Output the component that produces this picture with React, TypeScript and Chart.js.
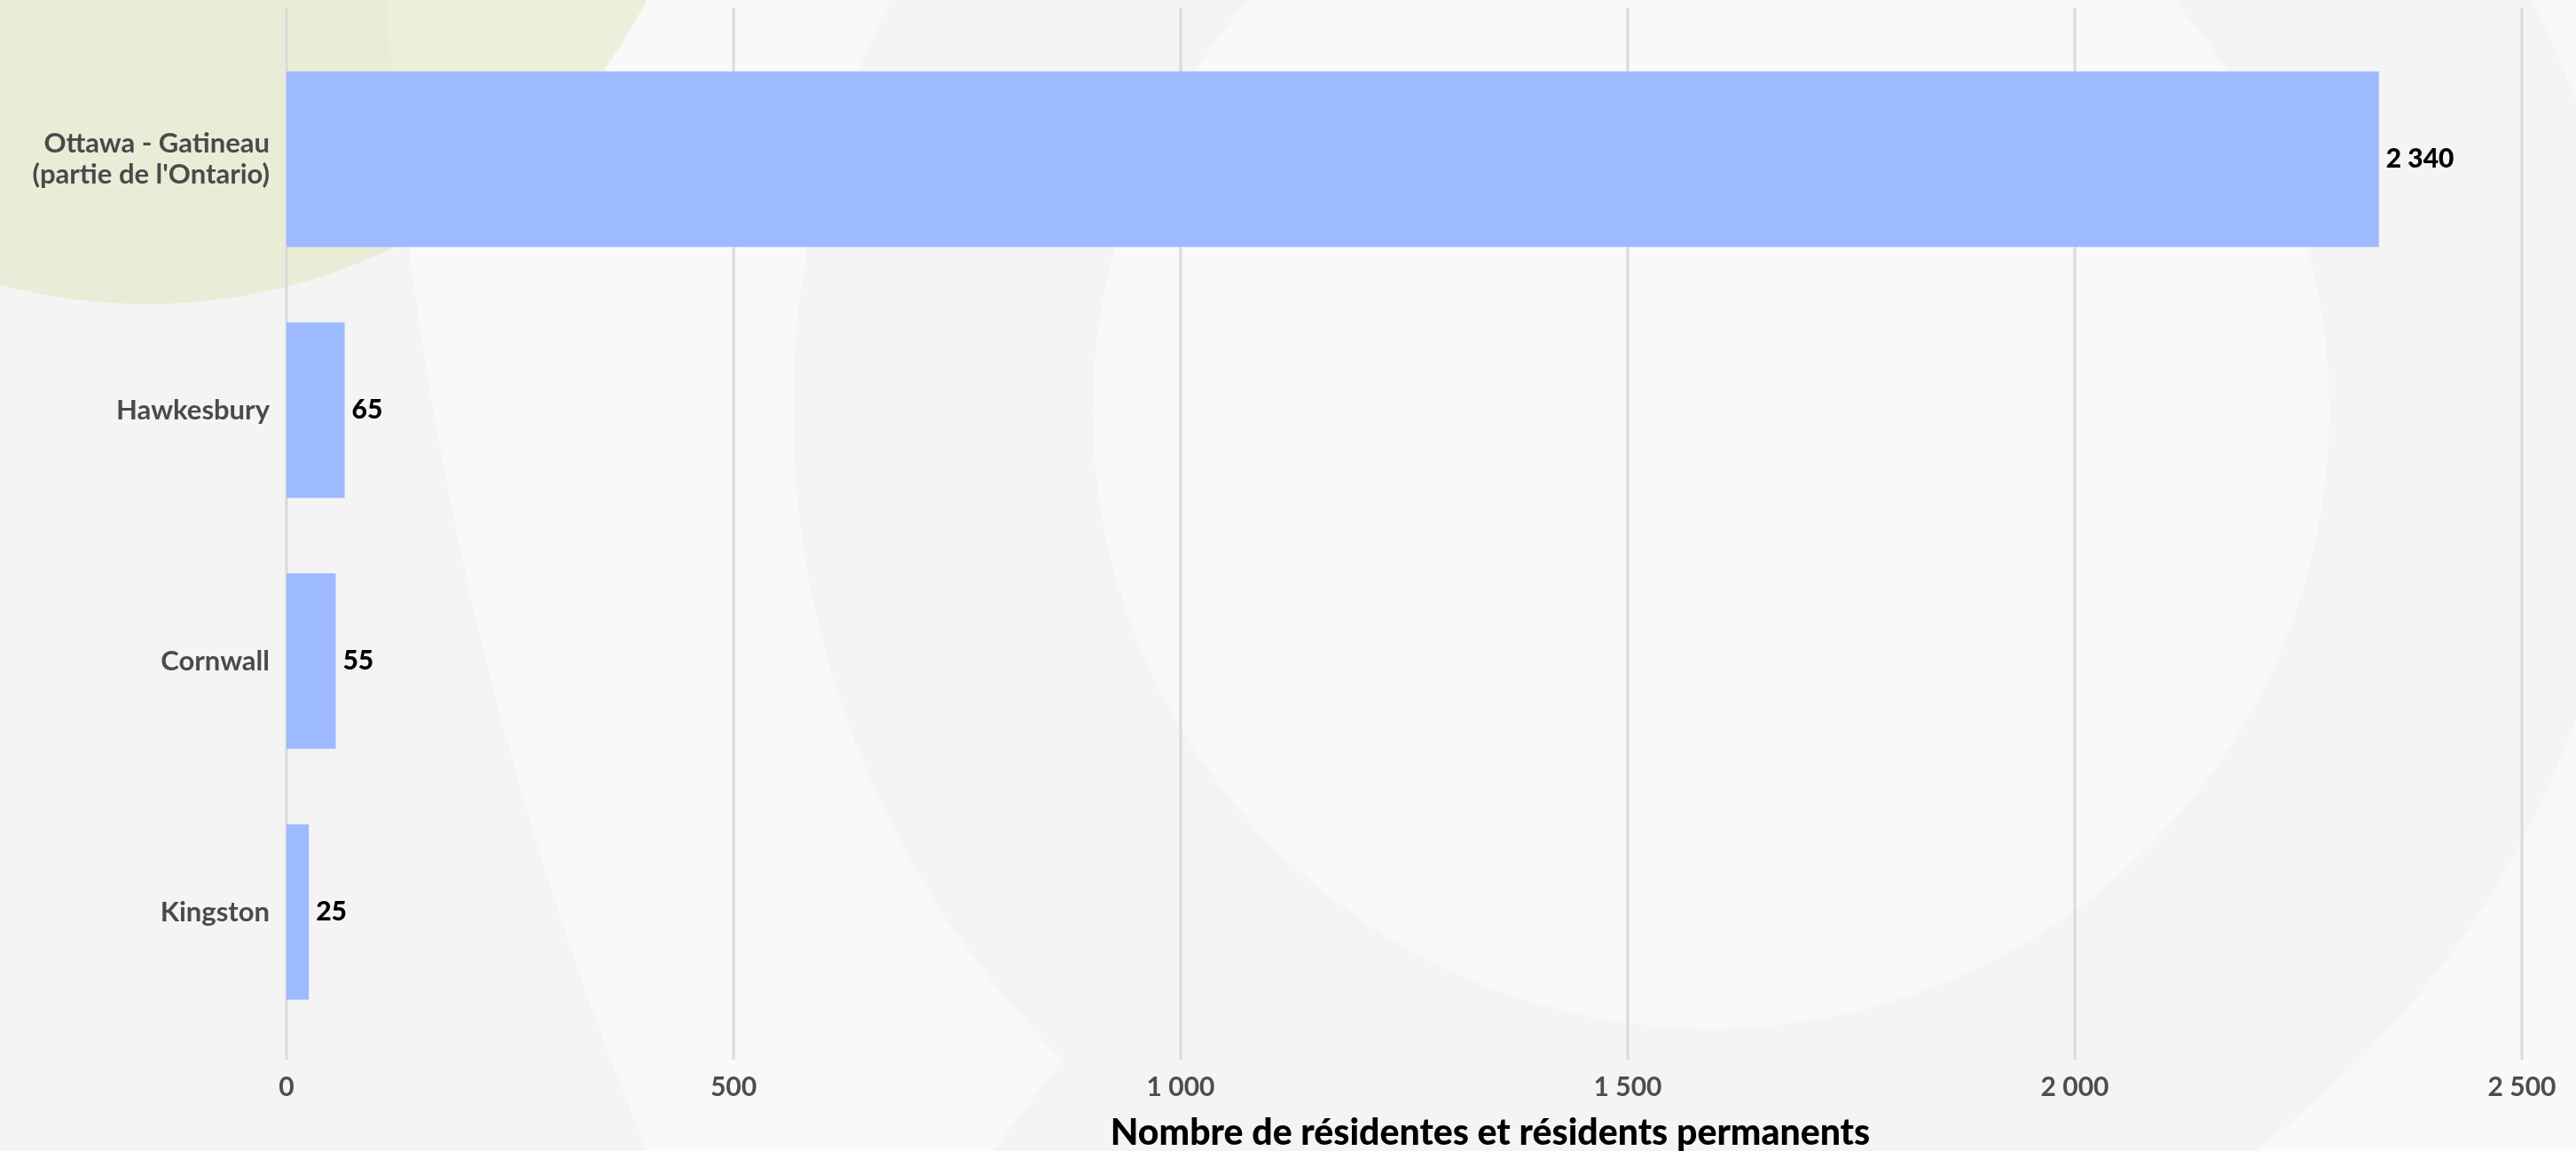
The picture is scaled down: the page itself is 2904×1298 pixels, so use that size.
import React, { useEffect, useRef } from 'react';
import { Chart, registerables } from 'chart.js';

Chart.register(...registerables);

const categories: (string | string[])[] = [
  ['Ottawa - Gatineau', "(partie de l'Ontario)"],
  'Hawkesbury',
  'Cornwall',
  'Kingston',
];
const values: number[] = [2340, 65, 55, 25];
const xTicks: number[] = [0, 500, 1000, 1500, 2000, 2500];
const xTitle = 'Nombre de résidentes et résidents permanents';
const barColor = '#9db9ff';

const FONT = "Lato, 'Noto Sans', sans-serif";

function fmt(v: number): string {
  return String(v).replace(/\B(?=(\d{3})+(?!\d))/g, ' ');
}

const bgPlugin = {
  id: 'bgShapes',
  beforeDraw(chart: any) {
    const { ctx, width, height } = chart;
    ctx.save();
    ctx.fillStyle = '#f4f4f4';
    ctx.fillRect(0, 0, width, height);
    // large light band
    ctx.fillStyle = '#f9f9f9';
    ctx.beginPath();
    ctx.arc(4456, -228, 4027, 0, Math.PI * 2);
    ctx.fill();
    // gray ring
    ctx.fillStyle = '#f4f4f4';
    ctx.beginPath();
    ctx.arc(1929, 463, 1035, 0, Math.PI * 2);
    ctx.fill();
    ctx.beginPath();
    ctx.moveTo(1199, 1194);
    ctx.lineTo(1116, 1302);
    ctx.lineTo(1340, 1302);
    ctx.closePath();
    ctx.fill();
    // inner light circle
    ctx.fillStyle = '#f9f9f9';
    ctx.beginPath();
    ctx.arc(1929, 463, 697, 0, Math.PI * 2);
    ctx.fill();
    // green circle
    ctx.fillStyle = 'rgba(200,215,130,0.25)';
    ctx.beginPath();
    ctx.arc(166, -291, 634, 0, Math.PI * 2);
    ctx.fill();
    ctx.restore();
  },
};

const gridPlugin = {
  id: 'fullGrid',
  beforeDatasetsDraw(chart: any) {
    const { ctx, chartArea } = chart;
    const xs = chart.scales.x;
    ctx.save();
    ctx.strokeStyle = '#dadada';
    ctx.lineWidth = 3;
    xs.ticks.forEach((t: any) => {
      const px = Math.round(xs.getPixelForValue(t.value));
      ctx.beginPath();
      ctx.moveTo(px, chartArea.top - 29);
      ctx.lineTo(px, chartArea.bottom + 25);
      ctx.stroke();
    });
    ctx.restore();
  },
};

const labelPlugin = {
  id: 'valueLabels',
  afterDatasetsDraw(chart: any) {
    const { ctx } = chart;
    const meta = chart.getDatasetMeta(0);
    ctx.save();
    ctx.font = `900 30px ${FONT}`;
    ctx.fillStyle = '#000000';
    ctx.textAlign = 'left';
    ctx.textBaseline = 'middle';
    meta.data.forEach((el: any, i: number) => {
      ctx.fillText(fmt(values[i]), el.x + 8, el.y);
    });
    ctx.restore();
  },
  afterDraw(chart: any) {
    const { ctx } = chart;
    ctx.save();
    ctx.font = `900 41px ${FONT}`;
    ctx.fillStyle = '#000000';
    ctx.textAlign = 'center';
    ctx.textBaseline = 'middle';
    ctx.fillText(xTitle, 1680, 1278);
    ctx.restore();
  },
};

export default function App() {
  const ref = useRef<HTMLCanvasElement | null>(null);

  useEffect(() => {
    document.body.style.margin = '0';
    const canvas = ref.current;
    if (!canvas) return;
    const chart = new Chart(canvas, {
      type: 'bar',
      data: {
        labels: categories,
        datasets: [
          {
            data: values,
            backgroundColor: barColor,
            borderWidth: 0,
            barPercentage: 0.7,
            categoryPercentage: 1,
          },
        ],
      },
      options: {
        indexAxis: 'y',
        responsive: false,
        animation: false,
        devicePixelRatio: 1,
        layout: { padding: { top: 38, bottom: 54, left: 0, right: 61 } },
        plugins: {
          legend: { display: false },
          tooltip: { enabled: false },
          title: { display: false },
        },
        scales: {
          x: {
            type: 'linear',
            min: 0,
            max: 2500,
            grid: { display: false, drawTicks: false },
            border: { display: false },
            afterBuildTicks: (scale: any) => {
              scale.ticks = xTicks.map((v) => ({ value: v }));
            },
            afterFit: (scale: any) => {
              scale.height = 74;
              scale.paddingLeft = 0;
              scale.paddingRight = 0;
            },
            ticks: {
              padding: 38,
              color: '#4d4d4d',
              font: { family: FONT, size: 30, weight: 'bold' },
              callback: (v: any) => fmt(Number(v)),
            },
          },
          y: {
            type: 'category',
            grid: { display: false, drawTicks: false },
            border: { display: false },
            afterFit: (scale: any) => {
              scale.width = 323;
              scale.paddingTop = 0;
              scale.paddingBottom = 0;
            },
            ticks: {
              padding: 19,
              color: '#4a4a4a',
              font: { family: FONT, size: 31, weight: 'bold', lineHeight: 1.13 },
            },
          },
        },
      },
      plugins: [bgPlugin, gridPlugin, labelPlugin],
    });
    return () => chart.destroy();
  }, []);

  return (
    <div style={{ width: 2904, height: 1298, margin: 0, padding: 0 }}>
      <canvas ref={ref} width={2904} height={1298} style={{ display: 'block' }} />
    </div>
  );
}
